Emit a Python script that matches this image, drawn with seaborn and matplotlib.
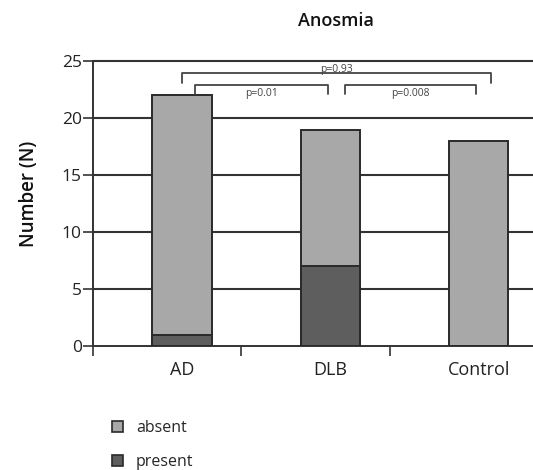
import numpy as np
import pandas as pd
import matplotlib
matplotlib.use("Agg")
import matplotlib.pyplot as plt
import seaborn as sns
from matplotlib.patches import Patch

# data
groups = ["AD", "DLB", "Control"]
present = [1, 7, 0]
absent = [21, 12, 18]
totals = [a + p for a, p in zip(absent, present)]

# significance brackets: (x start, x end, top, bottom, label, label y)
brackets = [
    (0.0, 2.08, 24.0, 23.05, "p=0.93", 24.3),
    (0.09, 0.985, 22.92, 22.08, "p=0.01", 22.2),
    (1.10, 1.985, 22.92, 22.08, "p=0.008", 22.2),
]

sns.set_style("white")
plt.rcParams["font.family"] = ["Open Sans", "DejaVu Sans"]

col_absent = "#a8a8a8"
col_present = "#5e5e5e"
edge = "#2a2a2a"

fig = plt.figure(figsize=(5.33, 4.70), dpi=100)
ax = fig.add_axes([0.1745, 0.2638, 0.835, 0.606])

df = pd.DataFrame({"group": groups, "total": totals, "present": present})
sns.barplot(data=df, x="group", y="total", color=col_absent, width=0.4,
            edgecolor=edge, linewidth=1.4, saturation=1, ax=ax, zorder=3)
sns.barplot(data=df, x="group", y="present", color=col_present, width=0.4,
            edgecolor=edge, linewidth=1.4, saturation=1, ax=ax, zorder=4)

ax.set_ylim(0, 25)
ax.set_xlim(-0.6, 2.4)
ax.set_yticks(range(0, 26, 5))
for v in range(5, 26, 5):
    ax.axhline(v, color="#333333", lw=1.5, zorder=1, clip_on=False)

for s in ["top", "right"]:
    ax.spines[s].set_visible(False)
for s in ["left", "bottom"]:
    ax.spines[s].set_color("#333333")
    ax.spines[s].set_linewidth(1.4)

ax.tick_params(axis="y", which="major", length=7, width=1.2, color="#333333",
               direction="out", labelsize=12.5, pad=1, left=True)
ax.set_xticks([0, 1, 2])
ax.set_xticklabels(groups)
ax.tick_params(axis="x", which="major", length=0, labelsize=13, pad=11)
ax.set_xticks([-0.6, 0.4, 1.4], minor=True)
ax.tick_params(axis="x", which="minor", length=7, width=1.2, color="#333333",
               direction="out", bottom=True)
for lbl in ax.get_yticklabels() + ax.get_xticklabels():
    lbl.set_color("#222222")

ax.set_xlabel("")
ax.set_ylabel("Number (N)", fontsize=13.5, fontweight="semibold",
              color="#111111")
ax.yaxis.set_label_coords(-0.122, 0.533)

# significance brackets
for x0, x1, top, bot, lab, ty in brackets:
    ax.plot([x0, x0, x1, x1], [bot, top, top, bot], color="#444444",
            lw=1.3, zorder=5, clip_on=False)
    ax.text((x0 + x1) / 2, ty, lab, ha="center", va="center", fontsize=7.5,
            color="#444444", zorder=6)

fig.text(0.63, 0.955, "Anosmia", ha="center", va="center", fontsize=13,
         fontweight="semibold", color="#111111")

handles = [Patch(facecolor=col_absent, edgecolor=edge, lw=1.2, label="absent"),
           Patch(facecolor=col_present, edgecolor=edge, lw=1.2, label="present")]
fig.legend(handles=handles, loc="lower left", bbox_to_anchor=(0.183, -0.031),
           frameon=False, fontsize=11.5, handlelength=0.7, handleheight=0.7,
           handletextpad=0.8, labelspacing=1.15)

fig.savefig("out.png", dpi=100)
